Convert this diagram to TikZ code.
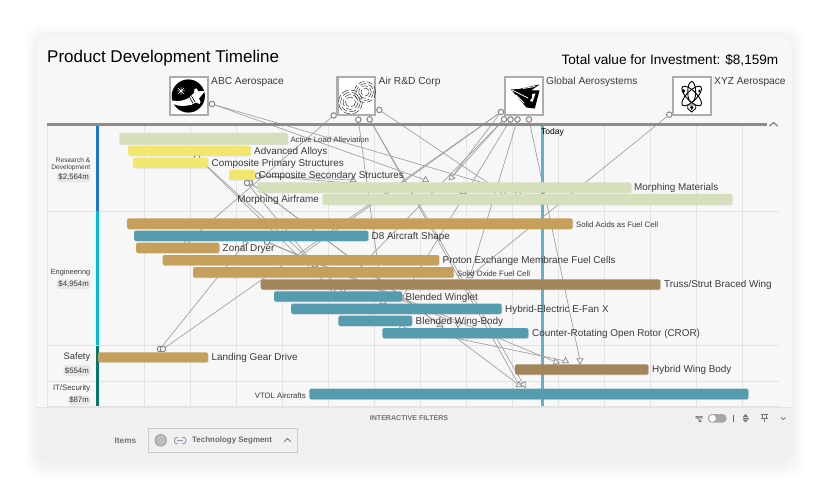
\documentclass[tikz,border=0pt]{standalone}
\usepackage{fontspec}
\setmainfont{Liberation Sans}
\usetikzlibrary{shapes.geometric,shadows,fit}
\definecolor{cardc}{HTML}{F7F7F7}
\definecolor{panelc}{HTML}{F0F0F0}
\definecolor{gridc}{HTML}{E3E3E3}
\definecolor{txtc}{HTML}{3A3A3A}
\definecolor{linec}{HTML}{A2A2A2}
\definecolor{portc}{HTML}{858585}
\definecolor{greenb}{HTML}{D5DFBB}
\definecolor{yellowb}{HTML}{F3E66F}
\definecolor{goldb}{HTML}{C4A05A}
\definecolor{tealb}{HTML}{559DAE}
\definecolor{brownb}{HTML}{A3855B}
\definecolor{todayc}{HTML}{62AFCF}
\definecolor{catblue}{HTML}{1976D2}
\definecolor{catcyan}{HTML}{00BCD4}
\definecolor{catteal}{HTML}{00796B}
\tikzset{
  bar/.style={inner sep=0pt,rounded corners=1.5pt,fill=#1,
    drop shadow={shadow xshift=0.7pt,shadow yshift=-0.7pt,fill=black!40,opacity=.25}},
  port/.style={circle,draw=portc,fill=cardc,line width=1pt,minimum size=5.5pt,inner sep=0pt},
  tgt/.style={regular polygon,regular polygon sides=3,draw=linec!85!black,fill=cardc,line width=.7pt,
    minimum size=7pt,inner sep=0pt,rotate=#1},
  tgt/.default=0,
  conn/.style={draw=linec,line width=.7pt},
  lab/.style={anchor=west,inner sep=0pt,text=txtc,yshift=-1pt,font=\fontsize{9.9}{12}\selectfont},
  labs/.style={anchor=west,inner sep=0pt,text=txtc,yshift=-.8pt,font=\fontsize{7.8}{9}\selectfont},
  cat/.style={anchor=east,inner sep=0pt,text=txtc,yshift=-.7pt,font=\fontsize{#1}{9}\selectfont},
  pill/.style={anchor=east,inner sep=1.5pt,fill=black!9,rounded corners=3pt,text=txtc,yshift=-.5pt,font=\fontsize{7.8}{9}\selectfont},
  logo/.style={draw=black!32,line width=2.4pt,fill=white,inner sep=0pt,
    drop shadow={shadow xshift=0.6pt,shadow yshift=-0.6pt,fill=black!40,opacity=.25}},
  comp/.style={anchor=west,inner sep=0pt,text=txtc,yshift=-1pt,font=\fontsize{10.2}{12}\selectfont},
  icon/.style={draw=black!55,line width=.8pt},
}
\newcommand{\gbar}[6]{\node[bar=#6,fit={(#2,#3)(#4,#5)}] (#1) {};}
\begin{document}
\begin{tikzpicture}[x=1pt,y=-1pt]
\useasboundingbox (0,0) rectangle (828,500);
\fill[white] (0,0) rectangle (828,500);
% soft card shadow
\foreach \d in {13,12,...,1}{
  \fill[black,opacity=.004,rounded corners=17pt] (37-\d,36-\d+1) rectangle (792+\d,464+\d+1);
}
\fill[cardc,rounded corners=15pt] (37,36) rectangle (792,464);
\fill[panelc,rounded corners=15pt] (37,440) rectangle (792,464);
\fill[panelc] (37,408) rectangle (792,448);
\draw[gridc,line width=1pt] (37,407.5) -- (792,407.5);
% grid
\foreach \k in {0,...,13}{
  \draw[gridc,line width=.8pt] ({144.7+46*\k},125) -- ({144.7+46*\k},407);
}
\foreach \y in {211,345.5,381.7,406}{
  \draw[gridc,line width=.8pt] (47,\y) -- (779,\y);
}
\draw[gridc,line width=.8pt] (47,125) -- (47,407);
% today line
\fill[todayc] (540.8,126) rectangle (544,406);
% category bars
\fill[catblue] (96,126) rectangle (99,211);
\fill[catcyan] (96,211) rectangle (99,345);
\fill[catteal] (96,346) rectangle (99,406);
% source ports
\node[port] (abcP) at (212,104) {};
\node[port] (airA) at (333.7,115.5) {};
\node[port] (airB) at (358.3,119.7) {};
\node[port] (airC) at (369.7,119.3) {};
\node[port] (airD) at (379.4,110) {};
\node[port] (gloA) at (501,112) {};
\node[port] (gloB) at (504,119.3) {};
\node[port] (gloC) at (510.5,119.5) {};
\node[port] (gloD) at (517.5,119.5) {};
\node[port] (gloE) at (529,119.5) {};
\node[port] (xyzP) at (669.3,114.7) {};
\node[port] (srcA) at (197,157) {};
\node[port] (srcB) at (258,175.7) {};
\node[port] (srcC) at (250,182.5) {};
\node[port] (srcD) at (247,183) {};
\node[port] (srcE) at (267,242) {};
\node[port] (srcF) at (160,349) {};
\node[port] (srcG) at (163,349) {};
% target markers
\node[tgt] (tA) at (353,180) {};
\node[tgt] (tB) at (425.5,180) {};
\node[tgt=15] (tC) at (451.5,177.5) {};
\node[tgt] (tD) at (187,242) {};
\node[tgt=30] (tE) at (245,243) {};
\node[tgt] (tF) at (315,265) {};
\node[tgt=180] (tG) at (333,290) {};
\node[tgt=180] (tH) at (343,290) {};
\node[tgt] (tI) at (470,276) {};
\node[tgt=-30] (tJ) at (402,298) {};
\node[tgt] (tK) at (383,302) {};
\node[tgt] (tL) at (402,327) {};
\node[tgt] (tM) at (440,325) {};
\node[tgt=180] (tN) at (458,324) {};
\node[tgt=15] (tO) at (556,362) {};
\node[tgt] (tP) at (565.5,361) {};
\node[tgt=180] (tQ) at (580,360.5) {};
\node[tgt] (tR) at (519,385) {};
\node[tgt=90] (tS) at (523.5,384.5) {};
\node[tgt] (tT) at (503,193) {};
\node[tgt] (tU) at (518,193) {};
\node[tgt] (tV) at (463,192) {};
\coordinate (endA) at (300,256);
\coordinate (endB) at (362,265);
% connectors
\draw[conn] (abcP) -- (tB);
\draw[conn] (abcP) -- (tU);
\draw[conn] (airA) -- (tD);
\draw[conn] (airB) -- (tK);
\draw[conn] (airC) -- (tR);
\draw[conn] (airC) -- (tS);
\draw[conn] (airD) -- (tT);
\draw[conn] (gloA) -- (srcG);
\draw[conn] (gloA) -- (tC);
\draw[conn] (gloA) -- (endA);
\draw[conn] (gloB) -- (tC);
\draw[conn] (gloB) -- (endB);
\draw[conn] (gloC) -- (tJ);
\draw[conn] (gloD) -- (tI);
\draw[conn] (gloE) -- (tQ);
\draw[conn] (xyzP) -- (tI);
\draw[conn] (srcF) -- (tE);
\draw[conn] (srcA) -- (tG);
\draw[conn] (srcA) -- (tH);
\draw[conn] (srcB) -- (tA);
\draw[conn] (srcB) -- (tV);
\draw[conn] (srcC) -- (tM);
\draw[conn] (srcC) -- (tR);
\draw[conn] (srcD) -- (tF);
\draw[conn] (srcE) -- (tN);
\draw[conn] (srcE) -- (tO);
\draw[conn] (srcE) -- (endA);
\draw[conn] (tL) -- (tP);
% top rule
\draw[black!45,line width=3pt] (47,124.3) -- (767,124.3);
\draw[black!45,line width=1.4pt,line cap=round,line join=round] (769.5,126) -- (773.5,122.5) -- (777.5,126);
% bars
\gbar{bActive}{119.3}{133}{287.7}{144.3}{greenb}
\gbar{bAlloys}{128}{145.7}{250.7}{155.7}{yellowb}
\gbar{bPrimary}{133}{157.7}{208}{168}{yellowb}
\gbar{bSecond}{229}{170}{255}{180}{yellowb}
\gbar{bMater}{257.3}{182.3}{631}{192.7}{greenb}
\gbar{bAirfr}{322.3}{194}{732}{204.7}{greenb}
\gbar{bAcids}{127}{218.3}{572.7}{229}{goldb}
\gbar{bDeight}{134}{230.7}{368.3}{241}{tealb}
\gbar{bZonal}{136}{242.7}{219.3}{253}{goldb}
\gbar{bProton}{162.7}{255}{439}{265.3}{goldb}
\gbar{bOxide}{193}{267}{453.7}{277.7}{goldb}
\gbar{bTruss}{260.7}{279.3}{660.3}{289.7}{brownb}
\gbar{bWinglet}{274}{291.3}{402}{301.7}{tealb}
\gbar{bFan}{291}{303.7}{501.7}{314}{tealb}
\gbar{bBody}{338.3}{315.7}{412}{326}{tealb}
\gbar{bCror}{382.3}{328}{528.3}{338.3}{tealb}
\gbar{bGear}{98}{352.3}{208}{362.3}{goldb}
\gbar{bHybrid}{515}{364.3}{648.3}{374.7}{brownb}
\gbar{bVtol}{309.3}{388.7}{748.3}{399.3}{tealb}
% bar labels
\node[labs] (lActive) at (290.3,139) {Active Load Alleviation};
\node[lab] (lAlloys) at (254,150.7) {Advanced Alloys};
\node[lab] (lPrimary) at (211.5,163) {Composite Primary Structures};
\node[lab] (lSecond) at (258.5,175) {Composite Secondary Structures};
\node[lab] (lMater) at (634,187) {Morphing Materials};
\node[lab,anchor=east] (lAirfr) at (319,199.3) {Morphing Airframe};
\node[labs] (lAcids) at (576,224) {Solid Acids as Fuel Cell};
\node[lab] (lDeight) at (371.5,235.7) {D8 Aircraft Shape};
\node[lab] (lZonal) at (222.5,248) {Zonal Dryer};
\node[lab] (lProton) at (442.5,260) {Proton Exchange Membrane Fuel Cells};
\node[labs] (lOxide) at (457,273) {Solid Oxide Fuel Cell};
\node[lab] (lTruss) at (664,284) {Truss/Strut Braced Wing};
\node[lab] (lWinglet) at (405.5,296.7) {Blended Winglet};
\node[lab] (lFan) at (505,308.7) {Hybrid-Electric E-Fan X};
\node[lab] (lBody) at (415.5,321) {Blended Wing-Body};
\node[lab] (lCror) at (532,333) {Counter-Rotating Open Rotor (CROR)};
\node[lab] (lGear) at (211.5,357) {Landing Gear Drive};
\node[lab] (lHybrid) at (652,369) {Hybrid Wing Body};
\node[labs,anchor=east] (lVtol) at (306,395) {VTOL Aircrafts};
\node[anchor=west,inner sep=0pt,yshift=-.8pt,font=\fontsize{8.5}{9}\selectfont] (lToday) at (541,131.5) {Today};
% category labels
\node[cat=6.6] (cResA) at (90.5,159.7) {Research \&};
\node[cat=6.6] (cResB) at (90.5,167) {Development};
\node[pill] (cResC) at (90.5,177) {\$2,564m};
\node[cat=7.4] (cEng) at (90.5,272) {Engineering};
\node[pill] (cEngV) at (90.5,283.7) {\$4,954m};
\node[cat=9.4] (cSaf) at (90.5,356) {Safety};
\node[pill,inner ysep=2.5pt] (cSafV) at (90.5,370) {\$554m};
\node[cat=7.8] (cIt) at (90.5,387.3) {IT/Security};
\node[pill] (cItV) at (90.5,399.7) {\$87m};
% titles
\node[anchor=west,inner sep=0pt,text=black,yshift=-1.5pt,font=\fontsize{17}{20}\selectfont] (title) at (47,57) {Product Development Timeline};
\node[anchor=east,inner sep=0pt,text=black,yshift=-1.2pt,font=\fontsize{13.6}{16}\selectfont] (total) at (778.5,59) {Total value for Investment: \$8,159m};
% companies
\node[logo,fit={(170,77)(208,115)}] (boxAbc) {};
\node[logo,fit={(337.5,77)(375,115)}] (boxAir) {};
\node[logo,fit={(505,77)(543,115)}] (boxGlo) {};
\node[logo,fit={(672.8,77)(710.8,115)}] (boxXyz) {};
\node[comp] (nAbc) at (211,81) {ABC Aerospace};
\node[comp] (nAir) at (378.5,81) {Air R\&D Corp};
\node[comp] (nGlo) at (546,81) {Global Aerosystems};
\node[comp] (nXyz) at (714,81) {XYZ Aerospace};
% ABC logo
\fill[black] (188.3,96) circle (16.6);
\fill[white] (172,100.5) .. controls (178,102) and (184,100.5) .. (189,98) -- (192,104.5) .. controls (186,106.5) and (178,106.5) .. (173.3,104) -- cycle;
\fill[white] (205,91) -- (198.5,91.3) -- (196.5,88.5) -- (194.5,89) -- (194,93) -- (187.5,99) -- (191,105) -- (196,102.5) -- (199.5,104) -- (200.5,102) -- (199,98.5) -- cycle;
\draw[black,line width=.6pt] (189.5,97) -- (193,103.5) (191.5,96) -- (195,102);
\draw[white,line width=.5pt] (178,88) -- (184,94) (184,88) -- (178,94) (181,87) -- (181,95) (177,91) -- (185,91);
% Air logo
\foreach \r in {5,7.4,9.8,12}{
  \draw[black!85,line width=.45pt,dash pattern=on 7pt off 2.4pt] (350.5,102) circle (\r);
}
\foreach \r in {4,6.2,8.4,10.6}{
  \draw[black!85,line width=.45pt,dash pattern=on 6pt off 2.6pt] (365,92) circle (\r);
}
% Global logo
\fill[black] (539.5,84.5) -- (519,89) -- (511,89.5) -- (526.5,107.5) -- (534.8,108.5) -- (539.5,90.5) -- (531,90.5) -- cycle;
\fill[white] (532,94) -- (535.5,93.5) -- (532.5,102) -- (530,100.5) -- (532,98) -- cycle;
\draw[white,line width=.8pt] (512,90) -- (528,98) (516,95) -- (524,103) (523,88.5) -- (535,86.5);
% XYZ logo
\draw[black,line width=.9pt] (691.7,92) ellipse (4 and 10.5);
\draw[black,line width=.9pt,rotate around={45:(691.7,96)}] (691.7,96) ellipse (13 and 5);
\draw[black,line width=.9pt,rotate around={-45:(691.7,96)}] (691.7,96) ellipse (13 and 5);
\fill[black] (683.5,91) circle (1.8) (699.5,91) circle (1.4);
\draw[black,line width=.9pt,fill=white] (687.7,105) -- (695.7,105) -- (695.7,108.5) -- (691.7,112) -- (687.7,108.5) -- cycle;
\fill[black] (691.7,106) -- (693.5,107) -- (691.7,110) -- (689.9,107) -- cycle;
% filter panel
\node[inner sep=0pt,text=black!55,font=\bfseries\fontsize{7.1}{8}\selectfont] (filters) at (409,418) {INTERACTIVE FILTERS};
\node[anchor=west,inner sep=0pt,text=black!55,font=\bfseries\fontsize{8.2}{10}\selectfont] (items) at (114.5,440.7) {Items};
\node[draw=black!20,line width=1pt,fill=panelc,inner sep=0pt,fit={(148,428.5)(297.5,452)}] (itemBox) {};
\node[circle,draw=black!42,fill=black!26,line width=.7pt,minimum size=11.5pt,inner sep=0pt] (itemDot) at (160.7,440.3) {};
\draw[blue!30!black!40,line width=1pt,rounded corners=2pt] (178,437.5) -- (174.5,437.5) -- (174.5,443.5) -- (178,443.5) (182,437.5) -- (185.8,437.5) -- (185.8,443.5) -- (182,443.5) (177,440.5) -- (183,440.5);
\node[anchor=west,inner sep=0pt,text=black!58,font=\bfseries\fontsize{7.95}{10}\selectfont] (segment) at (192,440.5) {Technology Segment};
\draw[black!55,line width=.9pt,line join=round] (284.3,441.7) -- (287.5,438.5) -- (290.7,441.7);
% toolbar icons
\draw[icon,line width=.6pt] (696,416.5) rectangle (698,418) (700,416.5) rectangle (702,418) (699,420) rectangle (701,421.5) (698,417.2) -- (700,417.2) (697,418) -- (699.5,420);
\fill[black!35,rounded corners=4.3pt] (707.7,414) rectangle (726.7,422.7);
\fill[white] (712.5,418.4) circle (3.4);
\draw[black!60,line width=.7pt] (733.5,414.5) -- (733.5,422);
\fill[black!55] (742.7,417) -- (745.5,414) -- (748.3,417) -- cycle (742.7,419.5) -- (745.5,422.3) -- (748.3,419.5) -- cycle;
\draw[black!60,line width=.6pt] (742.5,418.2) -- (748.5,418.2);
\draw[icon] (761,414) -- (767.5,414) (762.5,414) -- (762.5,418.5) (766,414) -- (766,418.5) (760.5,418.5) -- (768,418.5) (764.2,418.5) -- (764.2,422);
\draw[black!60,line width=.7pt] (781,417.5) -- (783.2,419.5) -- (785.4,417.5);
\end{tikzpicture}
\end{document}
